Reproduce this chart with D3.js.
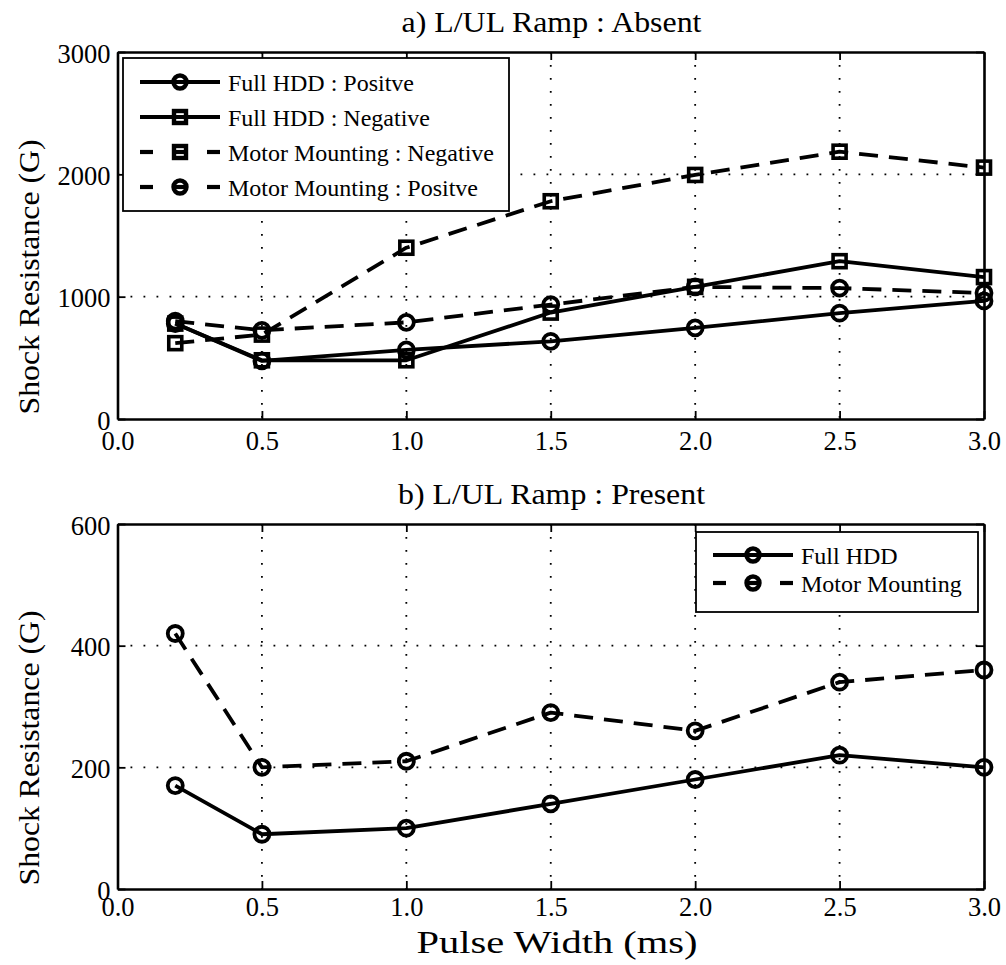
<!DOCTYPE html>
<html><head><meta charset="utf-8">
<script src="https://cdn.jsdelivr.net/npm/d3@7"></script>
<style>body{margin:0;background:#fff}svg{display:block}</style>
</head><body>
<script>
const pulseWidths = [0.2, 0.5, 1.0, 1.5, 2.0, 2.5, 3.0];
const xTicks = [0.0, 0.5, 1.0, 1.5, 2.0, 2.5, 3.0];
// Panel a) L/UL Ramp : Absent
const absentFullPos = [780, 475, 565, 635, 745, 865, 965];
const absentFullNeg = [780, 480, 480, 870, 1080, 1290, 1160];
const absentMotorNeg = [620, 690, 1400, 1780, 1995, 2185, 2055];
const absentMotorPos = [800, 725, 790, 935, 1080, 1070, 1030];
const yTicksA = [0, 1000, 2000, 3000];
// Panel b) L/UL Ramp : Present
const presentFull = [170, 90, 100, 140, 180, 220, 200];
const presentMotor = [420, 200, 210, 290, 260, 340, 360];
const yTicksB = [0, 200, 400, 600];

const FONT = "'Liberation Serif', 'Times New Roman', Times, serif";
const W = 1006, H = 965;
const svg = d3.select("body").append("svg").attr("width", W).attr("height", H)
  .attr("font-family", FONT);

const left = 117.5, right = 984;
const x = d3.scaleLinear().domain([0, 3]).range([left, right]);

function txt(g) { return g.append("text").attr("font-family", FONT).attr("fill", "#000"); }

let titleScale = null;

function panel(opts) {
  const y = d3.scaleLinear().domain(opts.ydom).range([opts.bottom, opts.top]);
  const g = svg.append("g");
  const gridDash = "1.8,11.2";
  g.selectAll(".gx").data(xTicks.slice(1, -1)).join("line")
    .attr("x1", d => x(d)).attr("x2", d => x(d)).attr("y1", opts.top).attr("y2", opts.bottom)
    .attr("stroke", "#000").attr("stroke-width", 1.8).attr("stroke-dasharray", gridDash);
  g.selectAll(".gy").data(opts.yticks.slice(1, -1)).join("line")
    .attr("y1", d => y(d)).attr("y2", d => y(d)).attr("x1", left).attr("x2", right)
    .attr("stroke", "#000").attr("stroke-width", 1.8).attr("stroke-dasharray", gridDash);
  const ax = g.append("g").attr("transform", `translate(0,${opts.bottom})`)
    .call(d3.axisBottom(x).tickValues(xTicks).tickFormat(d3.format(".1f")).tickSizeInner(-8).tickSizeOuter(0).tickPadding(opts.xpad));
  const ax2 = g.append("g").attr("transform", `translate(0,${opts.top})`)
    .call(d3.axisTop(x).tickValues(xTicks).tickFormat("").tickSizeInner(-8).tickSizeOuter(0));
  const ay = g.append("g").attr("transform", `translate(${left},0)`)
    .call(d3.axisLeft(y).tickValues(opts.yticks).tickFormat(d3.format("d")).tickSizeInner(-8).tickSizeOuter(0).tickPadding(7));
  const ay2 = g.append("g").attr("transform", `translate(${right},0)`)
    .call(d3.axisRight(y).tickValues(opts.yticks).tickFormat("").tickSizeInner(-8).tickSizeOuter(0));
  [ax, ax2, ay, ay2].forEach(a => {
    a.attr("font-family", FONT);
    a.selectAll("path").attr("stroke", "#000").attr("stroke-width", 2.6);
    a.selectAll("line").attr("stroke", "#000").attr("stroke-width", 1.8);
    a.selectAll("text").attr("font-size", 26.5).attr("font-family", FONT).attr("fill", "#000");
  });
  ax.selectAll("text").attr("dy", "0.71em");
  ay.selectAll("text").attr("dy", "0.38em");
  // title
  const t = txt(g).attr("x", 551.5).attr("y", opts.top - 20).attr("text-anchor", "middle")
    .attr("font-size", 29).text(opts.title);
  const nat = t.node().getComputedTextLength();
  if (titleScale === null) titleScale = 300 / nat;
  t.attr("textLength", nat * titleScale).attr("lengthAdjust", "spacingAndGlyphs");
  // y label
  txt(g).attr("transform", `translate(39,${opts.ylabelCy}) rotate(-90)`)
    .attr("text-anchor", "middle").attr("font-size", 29)
    .attr("textLength", 275).attr("lengthAdjust", "spacingAndGlyphs")
    .text("Shock Resistance (G)");
  // series
  opts.series.forEach(s => {
    const line = d3.line().x((d, i) => x(pulseWidths[i])).y(d => y(d));
    g.append("path").datum(s.values).attr("d", line).attr("fill", "none")
      .attr("stroke", "#000").attr("stroke-width", 3.8).attr("stroke-linejoin", "round")
      .attr("stroke-dasharray", s.dash ? "19,11" : null);
    drawMarkers(g, s.values.map((v, i) => [x(pulseWidths[i]), y(v)]), s.marker);
  });
  // legend
  const L = opts.legend;
  g.append("rect").attr("x", L.x).attr("y", L.y).attr("width", L.w).attr("height", L.h)
    .attr("fill", "#fff").attr("stroke", "#000").attr("stroke-width", 1.8);
  opts.series.forEach((s, i) => {
    const cy = L.y + L.first + i * L.step;
    const lx0 = L.x + 17, lx1 = L.x + 97, mx = (lx0 + lx1) / 2;
    if (s.dash) {
      g.append("line").attr("x1", lx0).attr("x2", lx0 + 13).attr("y1", cy).attr("y2", cy).attr("stroke", "#000").attr("stroke-width", 4.2);
      g.append("line").attr("x1", lx1 - 13).attr("x2", lx1).attr("y1", cy).attr("y2", cy).attr("stroke", "#000").attr("stroke-width", 4.2);
      g.append("line").attr("x1", mx - 6).attr("x2", mx + 6).attr("y1", cy).attr("y2", cy).attr("stroke", "#000").attr("stroke-width", 4.2);
    } else {
      g.append("line").attr("x1", lx0).attr("x2", lx1).attr("y1", cy).attr("y2", cy).attr("stroke", "#000").attr("stroke-width", 4.2);
    }
    drawMarkers(g, [[mx, cy]], s.marker, true);
    txt(g).attr("x", L.x + 105).attr("y", cy).attr("dy", "0.36em").attr("font-size", 24).text(s.name);
  });
}

function drawMarkers(g, pts, type, legend) {
  if (type === "circle") {
    g.selectAll(null).data(pts).join("circle").attr("cx", d => d[0]).attr("cy", d => d[1])
      .attr("r", legend ? 6.5 : 7.5).attr("fill", "none").attr("stroke", "#000").attr("stroke-width", legend ? 4.4 : 3.8);
  } else {
    const s = legend ? 12 : 13;
    g.selectAll(null).data(pts).join("rect").attr("x", d => d[0] - s / 2).attr("y", d => d[1] - s / 2)
      .attr("width", s).attr("height", s).attr("fill", "none").attr("stroke", "#000").attr("stroke-width", legend ? 4.4 : 3.6);
  }
}

panel({
  top: 52, bottom: 419, ydom: [0, 3000], yticks: yTicksA, title: "a) L/UL Ramp : Absent",
  xpad: 12.5, ylabelCy: 277,
  series: [
    { name: "Full HDD : Positve", values: absentFullPos, dash: false, marker: "circle" },
    { name: "Full HDD : Negative", values: absentFullNeg, dash: false, marker: "square" },
    { name: "Motor Mounting : Negative", values: absentMotorNeg, dash: true, marker: "square" },
    { name: "Motor Mounting : Positve", values: absentMotorPos, dash: true, marker: "circle" }
  ],
  legend: { x: 123, y: 58, w: 386, h: 153, first: 24, step: 35 }
});

panel({
  top: 524, bottom: 889, ydom: [0, 600], yticks: yTicksB, title: "b) L/UL Ramp : Present",
  xpad: 8, ylabelCy: 748,
  series: [
    { name: "Full HDD", values: presentFull, dash: false, marker: "circle" },
    { name: "Motor Mounting", values: presentMotor, dash: true, marker: "circle" }
  ],
  legend: { x: 696, y: 532, w: 282, h: 80, first: 23, step: 28 }
});

txt(svg).attr("x", 557).attr("y", 953).attr("text-anchor", "middle").attr("font-size", 31)
  .attr("textLength", 281).attr("lengthAdjust", "spacingAndGlyphs").text("Pulse Width (ms)");
</script>
</body></html>
